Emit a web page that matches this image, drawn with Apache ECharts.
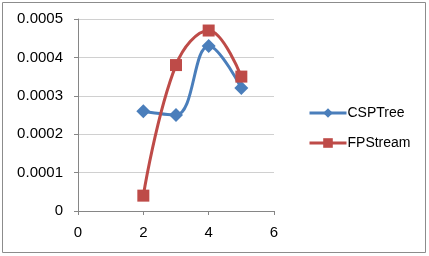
<!DOCTYPE html>
<html>
<head>
<meta charset="utf-8">
<script src="https://cdn.jsdelivr.net/npm/echarts@6/dist/echarts.min.js"></script>
<style>
  html, body { margin: 0; padding: 0; background: #fff; }
  #chart { width: 429px; height: 256px; }
</style>
</head>
<body>
<div id="chart"></div>
<script>
// data
const xValues = [2, 3, 4, 5];
const cspTree = [0.00026, 0.00025, 0.00043, 0.00032];
const fpStream = [0.00004, 0.00038, 0.00047, 0.00035];

const pairs = (xs, ys) => xs.map((x, i) => [x, ys[i]]);
const font = "Liberation Sans";

const chart = echarts.init(document.getElementById("chart"));
chart.setOption({
    animation: false,
    graphic: [
        {
            type: "rect",
            shape: { x: 2.5, y: 2.5, width: 423, height: 250 },
            style: { fill: "none", stroke: "#8c8c8c", lineWidth: 1 },
        },
    ],
    grid: { left: 78, top: 19, width: 196, height: 192 },
    legend: {
        orient: "vertical",
        left: 303,
        top: 101,
        itemWidth: 37,
        itemHeight: 12,
        itemGap: 16,
        lineStyle: { width: 3 },
        textStyle: { fontFamily: font, fontSize: 14, color: "#000", padding: [0, 0, 0, -4] },
        data: ["CSPTree", "FPStream"],
    },
    xAxis: {
        type: "value",
        min: 0,
        max: 6,
        interval: 2,
        axisLine: { show: true, lineStyle: { color: "#868686" } },
        axisTick: { show: true, length: 4, lineStyle: { color: "#868686" } },
        axisLabel: { fontFamily: font, fontSize: 15, color: "#000", margin: 14 },
        splitLine: { show: false },
    },
    yAxis: {
        type: "value",
        min: 0,
        max: 0.0005,
        interval: 0.0001,
        axisLine: { show: true, lineStyle: { color: "#868686" } },
        axisTick: { show: true, length: 4, lineStyle: { color: "#868686" } },
        axisLabel: {
            fontFamily: font,
            fontSize: 15,
            color: "#000",
            margin: 15,
            formatter: (v) => (v === 0 ? "0" : v.toFixed(4)),
        },
        splitLine: { show: true, lineStyle: { color: "#d0d0d0" } },
    },
    series: [
        {
            name: "CSPTree",
            type: "line",
            smooth: 0.4,
            data: pairs(xValues, cspTree),
            symbol: "diamond",
            symbolSize: 14,
            itemStyle: { color: "#4a7ebb" },
            lineStyle: { width: 3, color: "#4a7ebb" },
        },
        {
            name: "FPStream",
            type: "line",
            smooth: 0.4,
            data: pairs(xValues, fpStream),
            symbol: "rect",
            symbolSize: 12,
            itemStyle: { color: "#be4b48" },
            lineStyle: { width: 3, color: "#be4b48" },
        },
    ],
});
</script>
</body>
</html>
